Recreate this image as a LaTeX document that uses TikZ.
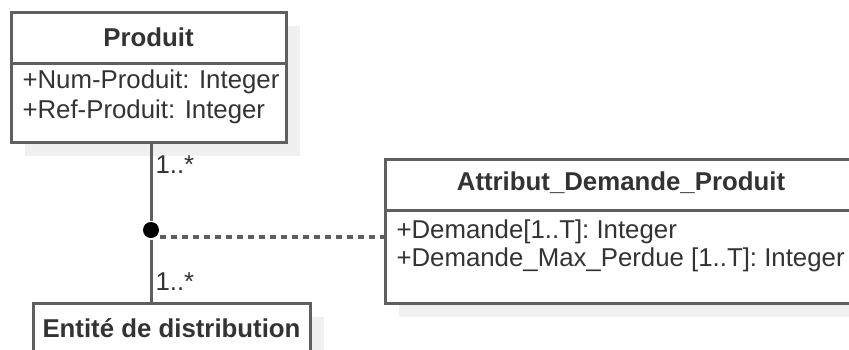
\documentclass[tikz,border=0pt]{standalone}
\usepackage{fontspec}
\setmainfont{Liberation Sans}
\usetikzlibrary{calc}

\definecolor{boxline}{HTML}{5F5F5F}
\definecolor{txtcol}{HTML}{333333}
\definecolor{shadowcol}{HTML}{F0F0F0}

\begin{document}
\begin{tikzpicture}[x=1pt, y=-1pt, line width=3pt,
    font=\fontsize{25.8}{30}\selectfont,
    classbox/.style={draw=boxline, fill=white, line width=3pt, inner sep=0pt, outer sep=0pt, anchor=north west},
    title/.style={inner sep=0pt, text=txtcol, font=\fontsize{25.8}{30}\selectfont\bfseries},
    attr/.style={inner sep=0pt, anchor=west, text=txtcol},
    mult/.style={inner sep=0pt, anchor=west, text=txtcol},
    assoc/.style={draw=boxline, line width=3pt},
    dashline/.style={draw=boxline, line width=3.5pt, dash pattern=on 6pt off 5pt}]
        \useasboundingbox (0,0) rectangle (849,349);
        \clip (0,0) rectangle (849,349);

        % ombres
        \fill[shadowcol] (25,26) rectangle (300,156);
        \fill[shadowcol] (399,173) rectangle (871,317);
        \fill[shadowcol] (47,317) rectangle (324,380);

        % classe Produit
        \node[classbox, minimum width=275pt, minimum height=130pt] (produit) at (11,12) {};
        \draw[boxline] ([yshift=-51pt]produit.north west) -- ([yshift=-51pt]produit.north east);
        \node[title] (produitT) at (148.5,37) {Produit};
        \node[attr] (produitA1) at (21,82) {+Num-Produit: Integer};
        \node[attr] (produitA2) at (21,112) {+Ref-Produit: Integer};

        % classe Attribut_Demande_Produit
        \node[classbox, minimum width=472pt, minimum height=144pt] (attribut) at (385,159) {};
        \draw[boxline] ([yshift=-51pt]attribut.north west) -- ([yshift=-51pt]attribut.north east);
        \node[title] (attributT) at (621,183) {Attribut\_Demande\_Produit};
        \node[attr] (attributA1) at (395,232) {+Demande[1..T]: Integer};
        \node[attr] (attributA2) at (395,260) {+Demande\_Max\_Perdue [1..T]: Integer};

        % classe Entité de distribution
        \node[classbox, minimum width=277pt, minimum height=70pt] (entite) at (33,303) {};
        \node[title] (entiteT) at (171.5,328) {Entité de distribution};

        % association et classe d'association
        \node[circle, fill=black, inner sep=0pt, minimum size=16pt] (dot) at (151,230) {};
        \draw[assoc] (produit.south -| dot) -- (dot) -- (dot |- entite.north);
        \coordinate (dashA) at (160,237);
        \draw[dashline] (dashA) -- (dashA -| attribut.west);

        % multiplicités
        \node[mult] (multA) at (154,165) {1..*};
        \node[mult] (multB) at (154,282) {1..*};
    \end{tikzpicture}
\end{document}
